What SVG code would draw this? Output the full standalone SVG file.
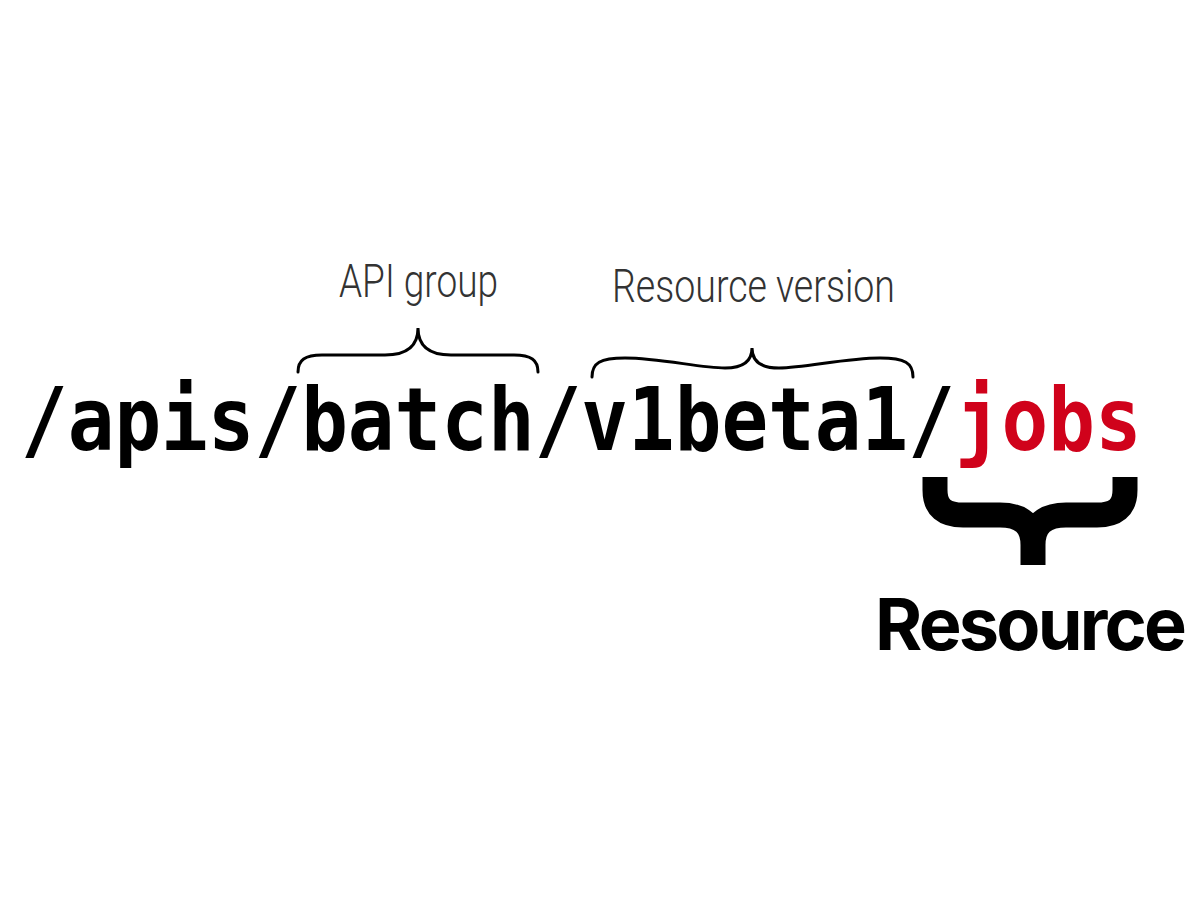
<svg xmlns="http://www.w3.org/2000/svg" width="1200" height="900" viewBox="0 0 1200 900">
  <style>
    .path { font-family: "DejaVu Sans Mono", "Liberation Mono", monospace; font-weight: bold; font-size: 88px; fill: #000000; }
    .red { fill: #d0021b; }
    .hand { font-family: Roboto, "Open Sans", sans-serif; font-weight: 300; font-size: 46px; fill: #333333; }
    .brace { fill: none; stroke: #000000; stroke-width: 3; stroke-linecap: round; }
    .big { fill: none; stroke: #000000; stroke-width: 25; }
    .res { font-family: Inter, "Liberation Sans", sans-serif; font-weight: 700; font-size: 72px; fill: #000000; }
  </style>
  <rect width="1200" height="900" fill="#ffffff"/>
  <g id="url">
    <text class="path" transform="translate(21,450) scale(0.8815,1)" x="0" y="0">/apis/batch/v1beta1/<tspan class="red">jobs</tspan></text>
  </g>
  <g id="api-group">
    <text class="hand" x="339" y="297" textLength="159" lengthAdjust="spacingAndGlyphs">API group</text>
    <path class="brace" d="M298,372 C298,360 305,355 322,355 L385,355 C408,355 418,345 418,328 C418,345 428,355 451,355 L514,355 C531,355 538,360 538,372"/>
  </g>
  <g id="resource-version">
    <text class="hand" x="612" y="302" textLength="283" lengthAdjust="spacingAndGlyphs">Resource version</text>
    <path class="brace" d="M592,377 C592,363 600,358 625,358 C660,358 700,368 725,368 C745,368 752,360 752,348 C752,360 759,368 779,368 C805,368 845,358 880,358 C905,358 913,363 913,377"/>
  </g>
  <g id="resource">
    <path class="big" d="M935,477 L935,490 C935,508 945,515 963,515 L1000,515 C1022,515 1033,525 1033,545 L1033,565 M1125,477 L1125,490 C1125,508 1115,515 1097,515 L1066,515 C1044,515 1033,525 1033,545"/>
    <text class="res" x="875" y="650" textLength="312" lengthAdjust="spacing">Resource</text>
  </g>
</svg>
